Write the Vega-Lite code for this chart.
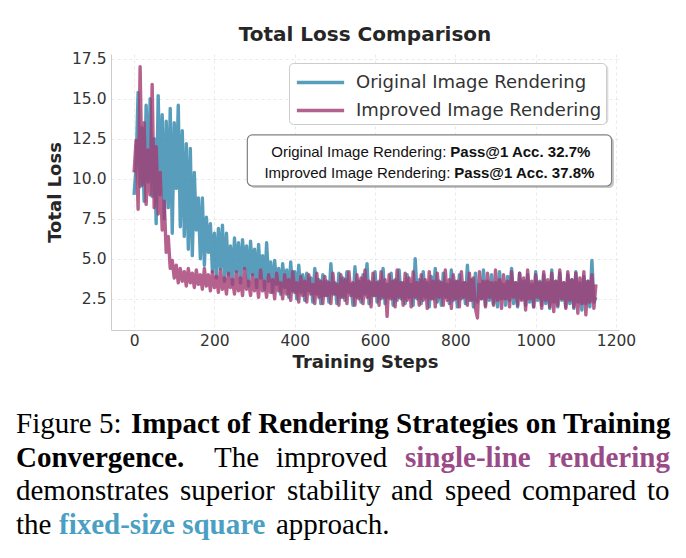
{
  "$schema": "https://vega.github.io/schema/vega-lite/v6.json",
  "width": 508,
  "height": 276,
  "autosize": {"type": "none"},
  "padding": {"left": 111, "top": 54, "right": 67, "bottom": 228},
  "background": "white",
  "config": {"view": {"stroke": null}},
  "title": {"text": "Total Loss Comparison", "font": "DejaVu Sans", "fontSize": 20, "fontWeight": "bold", "color": "#262626", "frame": "group", "offset": 7, "anchor": "middle"},
  "datasets": {
    "loss": [
      {"step":0,"o":9.0,"i":10.4},{"step":5,"o":10.8,"i":12.4},{"step":10,"o":15.4,"i":8.1},{"step":15,"o":9.5,"i":17.0},{"step":20,"o":13.2,"i":9.6},
      {"step":25,"o":8.6,"i":13.5},{"step":30,"o":14.6,"i":8.4},{"step":35,"o":9.8,"i":11.8},{"step":40,"o":15.0,"i":9.0},{"step":45,"o":8.9,"i":15.9},
      {"step":50,"o":12.5,"i":8.2},{"step":55,"o":7.2,"i":12.0},{"step":60,"o":15.2,"i":7.8},{"step":65,"o":9.0,"i":10.4},{"step":70,"o":14.0,"i":6.8},
      {"step":75,"o":7.5,"i":8.6},{"step":80,"o":13.6,"i":5.4},{"step":85,"o":8.2,"i":6.4},{"step":90,"o":14.4,"i":4.4},{"step":95,"o":6.6,"i":4.9},
      {"step":100,"o":13.5,"i":3.8},{"step":105,"o":9.4,"i":4.6},{"step":110,"o":14.6,"i":3.5},{"step":115,"o":7.0,"i":4.4},{"step":120,"o":13.0,"i":3.6},
      {"step":125,"o":6.4,"i":4.2},{"step":130,"o":12.2,"i":3.3},{"step":135,"o":5.6,"i":4.4},{"step":140,"o":11.9,"i":3.5},{"step":145,"o":5.2,"i":4.1},
      {"step":150,"o":10.4,"i":3.2},{"step":155,"o":6.8,"i":4.3},{"step":160,"o":8.8,"i":3.4},{"step":165,"o":5.0,"i":4.0},{"step":170,"o":8.8,"i":3.1},
      {"step":175,"o":4.6,"i":4.4},{"step":180,"o":7.6,"i":3.3},{"step":185,"o":5.4,"i":4.0},{"step":190,"o":7.2,"i":3.0},{"step":195,"o":4.2,"i":4.2},
      {"step":200,"o":6.6,"i":3.2},{"step":205,"o":3.8,"i":3.9},{"step":210,"o":6.9,"i":2.9},{"step":215,"o":4.4,"i":4.3},{"step":220,"o":7.1,"i":3.1},
      {"step":225,"o":3.6,"i":3.8},{"step":230,"o":6.6,"i":2.8},{"step":235,"o":4.0,"i":4.1},{"step":240,"o":5.8,"i":3.2},{"step":245,"o":3.4,"i":3.7},
      {"step":250,"o":6.3,"i":2.8},{"step":255,"o":4.2,"i":4.2},{"step":260,"o":6.0,"i":3.0},{"step":265,"o":3.5,"i":3.8},{"step":270,"o":6.2,"i":2.7},
      {"step":275,"o":4.4,"i":4.4},{"step":280,"o":5.8,"i":3.1},{"step":285,"o":3.3,"i":3.6},{"step":290,"o":6.1,"i":2.7},{"step":295,"o":4.0,"i":4.0},
      {"step":300,"o":5.6,"i":3.0},{"step":305,"o":3.2,"i":3.7},{"step":310,"o":5.9,"i":2.6},{"step":315,"o":3.8,"i":4.3},{"step":320,"o":5.2,"i":3.0},
      {"step":325,"o":3.1,"i":3.6},{"step":330,"o":6.0,"i":2.6},{"step":335,"o":3.6,"i":4.0},{"step":340,"o":4.8,"i":2.9},{"step":345,"o":2.9,"i":3.7},
      {"step":350,"o":4.9,"i":2.5},{"step":355,"o":3.4,"i":4.1},{"step":360,"o":4.4,"i":3.0},{"step":365,"o":2.8,"i":3.5},{"step":370,"o":4.7,"i":2.5},
      {"step":375,"o":3.2,"i":4.0},{"step":380,"o":4.3,"i":2.8},{"step":385,"o":2.6,"i":3.7},{"step":390,"o":4.8,"i":2.4},{"step":395,"o":3.0,"i":4.2},
      {"step":400,"o":4.2,"i":2.9},{"step":405,"o":2.5,"i":3.5},{"step":410,"o":4.6,"i":2.3},{"step":415,"o":2.9,"i":3.9},{"step":420,"o":4.0,"i":2.7},
      {"step":425,"o":2.4,"i":3.6},{"step":430,"o":4.1,"i":2.3},{"step":435,"o":3.0,"i":4.0},{"step":440,"o":3.8,"i":2.8},{"step":445,"o":2.3,"i":3.4},
      {"step":450,"o":4.4,"i":2.2},{"step":455,"o":2.8,"i":4.1},{"step":460,"o":3.7,"i":2.6},{"step":465,"o":2.2,"i":3.6},{"step":470,"o":4.0,"i":2.2},
      {"step":475,"o":2.7,"i":3.9},{"step":480,"o":3.6,"i":2.7},{"step":485,"o":2.3,"i":3.5},{"step":490,"o":4.7,"i":2.2},{"step":495,"o":2.8,"i":4.1},
      {"step":500,"o":3.5,"i":2.8},{"step":505,"o":2.2,"i":3.4},{"step":510,"o":4.1,"i":2.1},{"step":515,"o":2.6,"i":4.0},{"step":520,"o":3.8,"i":2.6},
      {"step":525,"o":2.4,"i":3.7},{"step":530,"o":4.2,"i":2.2},{"step":535,"o":2.9,"i":4.2},{"step":540,"o":3.4,"i":2.7},{"step":545,"o":2.1,"i":3.5},
      {"step":550,"o":4.5,"i":2.1},{"step":555,"o":2.6,"i":4.0},{"step":560,"o":3.6,"i":2.5},{"step":565,"o":2.3,"i":3.8},{"step":570,"o":4.0,"i":2.2},
      {"step":575,"o":2.8,"i":4.3},{"step":580,"o":4.7,"i":2.6},{"step":585,"o":2.2,"i":3.6},{"step":590,"o":3.5,"i":2.0},{"step":595,"o":2.7,"i":4.1},
      {"step":600,"o":4.2,"i":2.7},{"step":605,"o":2.3,"i":3.5},{"step":610,"o":3.6,"i":2.1},{"step":615,"o":2.5,"i":4.2},{"step":620,"o":4.4,"i":2.6},
      {"step":625,"o":2.2,"i":3.7},{"step":630,"o":3.4,"i":1.4},{"step":635,"o":2.6,"i":4.0},{"step":640,"o":4.1,"i":2.5},{"step":645,"o":2.1,"i":3.6},
      {"step":650,"o":3.7,"i":2.0},{"step":655,"o":2.4,"i":4.3},{"step":660,"o":4.3,"i":2.6},{"step":665,"o":2.5,"i":3.5},{"step":670,"o":3.5,"i":2.1},
      {"step":675,"o":2.2,"i":4.1},{"step":680,"o":4.0,"i":2.4},{"step":685,"o":2.6,"i":3.8},{"step":690,"o":3.4,"i":2.0},{"step":695,"o":2.1,"i":4.2},
      {"step":700,"o":5.0,"i":2.6},{"step":705,"o":2.5,"i":3.5},{"step":710,"o":3.7,"i":2.1},{"step":715,"o":2.2,"i":4.0},{"step":720,"o":4.2,"i":2.4},
      {"step":725,"o":2.6,"i":3.7},{"step":730,"o":3.5,"i":1.9},{"step":735,"o":2.0,"i":4.2},{"step":740,"o":3.9,"i":2.5},{"step":745,"o":2.5,"i":3.6},
      {"step":750,"o":4.4,"i":2.0},{"step":755,"o":2.3,"i":4.1},{"step":760,"o":3.6,"i":2.6},{"step":765,"o":2.1,"i":3.5},{"step":770,"o":4.1,"i":2.1},
      {"step":775,"o":2.6,"i":4.3},{"step":780,"o":3.4,"i":2.4},{"step":785,"o":2.2,"i":3.7},{"step":790,"o":4.3,"i":1.9},{"step":795,"o":2.4,"i":4.0},
      {"step":800,"o":3.6,"i":2.5},{"step":805,"o":2.0,"i":3.6},{"step":810,"o":4.0,"i":2.0},{"step":815,"o":2.5,"i":4.2},{"step":820,"o":3.5,"i":2.6},
      {"step":825,"o":2.2,"i":3.5},{"step":830,"o":4.6,"i":2.1},{"step":835,"o":2.4,"i":4.1},{"step":840,"o":3.7,"i":2.4},{"step":845,"o":2.0,"i":3.8},
      {"step":850,"o":4.1,"i":1.9},{"step":855,"o":2.3,"i":1.3},{"step":860,"o":3.4,"i":4.2},{"step":865,"o":2.5,"i":2.5},{"step":870,"o":4.3,"i":3.6},
      {"step":875,"o":2.1,"i":2.0},{"step":880,"o":3.6,"i":4.1},{"step":885,"o":2.4,"i":2.6},{"step":890,"o":4.0,"i":3.5},{"step":895,"o":2.2,"i":2.1},
      {"step":900,"o":3.5,"i":4.3},{"step":905,"o":2.0,"i":2.4},{"step":910,"o":4.2,"i":3.7},{"step":915,"o":2.5,"i":1.9},{"step":920,"o":3.4,"i":4.0},
      {"step":925,"o":2.1,"i":2.5},{"step":930,"o":3.9,"i":3.6},{"step":935,"o":2.4,"i":2.0},{"step":940,"o":4.4,"i":4.2},{"step":945,"o":2.2,"i":2.6},
      {"step":950,"o":3.5,"i":3.5},{"step":955,"o":2.0,"i":2.1},{"step":960,"o":4.1,"i":4.1},{"step":965,"o":2.5,"i":2.4},{"step":970,"o":3.6,"i":3.8},
      {"step":975,"o":2.1,"i":1.8},{"step":980,"o":4.0,"i":4.3},{"step":985,"o":2.3,"i":2.5},{"step":990,"o":3.4,"i":3.6},{"step":995,"o":2.0,"i":2.0},
      {"step":1000,"o":4.2,"i":4.0},{"step":1005,"o":2.4,"i":2.6},{"step":1010,"o":3.6,"i":3.5},{"step":1015,"o":2.1,"i":1.9},{"step":1020,"o":4.0,"i":4.2},
      {"step":1025,"o":2.2,"i":2.4},{"step":1030,"o":3.5,"i":3.7},{"step":1035,"o":1.9,"i":2.0},{"step":1040,"o":4.3,"i":4.1},{"step":1045,"o":2.3,"i":1.7},
      {"step":1050,"o":3.6,"i":3.6},{"step":1055,"o":2.0,"i":2.1},{"step":1060,"o":4.1,"i":4.3},{"step":1065,"o":2.4,"i":2.5},{"step":1070,"o":3.5,"i":3.5},
      {"step":1075,"o":2.0,"i":1.9},{"step":1080,"o":4.0,"i":4.2},{"step":1085,"o":2.2,"i":2.4},{"step":1090,"o":3.7,"i":3.7},{"step":1095,"o":1.9,"i":2.0},
      {"step":1100,"o":4.2,"i":4.1},{"step":1105,"o":2.3,"i":1.6},{"step":1110,"o":3.5,"i":3.8},{"step":1115,"o":1.8,"i":2.2},{"step":1120,"o":3.9,"i":4.2},
      {"step":1125,"o":2.2,"i":1.5},{"step":1130,"o":3.6,"i":3.6},{"step":1135,"o":2.0,"i":2.3},{"step":1140,"o":4.9,"i":4.0},{"step":1145,"o":2.3,"i":1.9},
      {"step":1150,"o":2.6,"i":3.4}
    ]
  },
  "layer": [
    {
      "layer": [
        {
          "data": {"name": "loss"},
          "mark": {"type": "line", "strokeWidth": 3.4, "opacity": 0.8, "strokeJoin": "round"},
          "encoding": {
            "x": {"field": "step", "type": "quantitative", "title": "Training Steps",
              "scale": {"domain": [-57.5, 1207.5], "nice": false, "zero": false},
              "axis": {"values": [0, 200, 400, 600, 800, 1000, 1200], "format": "d", "labelFont": "DejaVu Sans", "labelFontSize": 15.5, "labelColor": "#333333", "labelPadding": 3, "ticks": false, "labelFlush": false, "labelOverlap": false, "domainColor": "#cccccc", "gridColor": "#d0d0d0", "gridDash": [3, 3], "gridOpacity": 0.45, "titleFont": "DejaVu Sans", "titleFontSize": 18, "titleFontWeight": "bold", "titleColor": "#262626", "titlePadding": 4.5}},
            "y": {"field": "o", "type": "quantitative", "title": "Total Loss",
              "scale": {"domain": [0.55, 17.8], "nice": false, "zero": false},
              "axis": {"values": [2.5, 5, 7.5, 10, 12.5, 15, 17.5], "format": ".1f", "labelFont": "DejaVu Sans", "labelFontSize": 15.5, "labelColor": "#333333", "labelPadding": 5, "ticks": false, "labelOverlap": false, "domainColor": "#cccccc", "gridColor": "#d0d0d0", "gridDash": [3, 3], "gridOpacity": 0.45, "titleFont": "DejaVu Sans", "titleFontSize": 18, "titleFontWeight": "bold", "titleColor": "#262626", "titlePadding": 7}},
            "color": {"datum": "Original Image Rendering", "type": "nominal",
              "scale": {"domain": ["Original Image Rendering", "Improved Image Rendering"], "range": ["#2E86AB", "#A23B72"]},
              "legend": {"orient": "none", "legendX": 178, "legendY": 9, "title": null, "padding": 4, "rowPadding": 3, "symbolType": "M-1.75,0H1.75", "symbolSize": 729, "symbolOffset": 12, "labelOffset": 20, "symbolStrokeWidth": 3.5, "symbolOpacity": 0.85, "labelFont": "DejaVu Sans", "labelFontSize": 18, "labelColor": "#333333", "labelLimit": 400, "strokeColor": "#cccccc", "fillColor": "white", "cornerRadius": 4}}
          }
        },
        {
          "data": {"name": "loss"},
          "mark": {"type": "line", "strokeWidth": 3.4, "opacity": 0.8, "strokeJoin": "round"},
          "encoding": {
            "x": {"field": "step", "type": "quantitative", "title": "Training Steps"},
            "y": {"field": "i", "type": "quantitative", "title": "Total Loss"},
            "color": {"datum": "Improved Image Rendering", "type": "nominal"}
          }
        },
        {
          "data": {"values": [{"x1": 392, "x2": 1181, "y1": 13.425, "y2": 17.11}]},
          "mark": {"type": "rect", "fill": "#9a9a9a", "opacity": 0.35, "cornerRadius": 4},
          "encoding": {
            "x": {"field": "x1", "type": "quantitative", "title": "Training Steps"},
            "x2": {"field": "x2"},
            "y": {"field": "y1", "type": "quantitative", "title": "Total Loss"},
            "y2": {"field": "y2"}
          }
        },
        {
          "data": {"values": [{"x1": 288, "x2": 1195, "y1": 9.42, "y2": 12.61}]},
          "mark": {"type": "rect", "fill": "#9a9a9a", "opacity": 0.55, "cornerRadius": 5},
          "encoding": {
            "x": {"field": "x1", "type": "quantitative", "title": "Training Steps"},
            "x2": {"field": "x2"},
            "y": {"field": "y1", "type": "quantitative", "title": "Total Loss"},
            "y2": {"field": "y2"}
          }
        },
        {
          "data": {"values": [{"x1": 282, "x2": 1189, "y1": 9.55, "y2": 12.74}]},
          "mark": {"type": "rect", "fill": "white", "stroke": "#808080", "strokeWidth": 1.2, "cornerRadius": 5},
          "encoding": {
            "x": {"field": "x1", "type": "quantitative", "title": "Training Steps"},
            "x2": {"field": "x2"},
            "y": {"field": "y1", "type": "quantitative", "title": "Total Loss"},
            "y2": {"field": "y2"}
          }
        },
        {
          "data": {"values": [
            {"x": 780, "y": 11.675, "reg": "Original Image Rendering:", "bold": "Pass@1 Acc. 32.7%"},
            {"x": 790, "y": 10.36, "reg": "Improved Image Rendering:", "bold": "Pass@1 Acc. 37.8%"}
          ]},
          "layer": [
            {
              "mark": {"type": "text", "align": "right", "baseline": "middle", "dx": -1, "font": "Liberation Sans", "fontSize": 15, "color": "#111111"},
              "encoding": {
                "x": {"field": "x", "type": "quantitative", "title": "Training Steps"},
                "y": {"field": "y", "type": "quantitative", "title": "Total Loss"},
                "text": {"field": "reg"}
              }
            },
            {
              "mark": {"type": "text", "align": "left", "baseline": "middle", "dx": 3, "font": "Liberation Sans", "fontSize": 15, "fontWeight": "bold", "color": "#111111"},
              "encoding": {
                "x": {"field": "x", "type": "quantitative", "title": "Training Steps"},
                "y": {"field": "y", "type": "quantitative", "title": "Total Loss"},
                "text": {"field": "bold"}
              }
            }
          ]
        }
      ]
    },
    {
      "data": {"values": [
        {"line": 1, "pos": 0, "kind": "r", "text": "Figure 5:"},
        {"line": 1, "pos": 115, "kind": "b", "text": "Impact of Rendering Strategies on Training"},
        {"line": 2, "pos": 0, "kind": "b", "text": "Convergence."},
        {"line": 2, "pos": 198, "kind": "r", "text": "The"},
        {"line": 2, "pos": 260, "kind": "r", "text": "improved"},
        {"line": 2, "pos": 389, "kind": "p", "text": "single-line"},
        {"line": 2, "pos": 532, "kind": "p", "text": "rendering"},
        {"line": 3, "pos": 0, "kind": "r", "text": "demonstrates"},
        {"line": 3, "pos": 164, "kind": "r", "text": "superior"},
        {"line": 3, "pos": 271, "kind": "r", "text": "stability"},
        {"line": 3, "pos": 375, "kind": "r", "text": "and"},
        {"line": 3, "pos": 429, "kind": "r", "text": "speed"},
        {"line": 3, "pos": 506, "kind": "r", "text": "compared"},
        {"line": 3, "pos": 631, "kind": "r", "text": "to"},
        {"line": 4, "pos": 0, "kind": "r", "text": "the"},
        {"line": 4, "pos": 43, "kind": "c", "text": "fixed-size square"},
        {"line": 4, "pos": 260, "kind": "r", "text": "approach."}
      ]},
      "encoding": {
        "x": {"field": "pos", "type": "quantitative", "scale": {"domain": [95, 603], "nice": false, "zero": false}, "axis": null},
        "y": {"field": "line", "type": "quantitative", "scale": {"domain": [-10.0448, -1.806], "reverse": true, "nice": false, "zero": false}, "axis": null},
        "text": {"field": "text"}
      },
      "layer": [
        {"transform": [{"filter": "datum.kind == 'r'"}], "mark": {"type": "text", "align": "left", "baseline": "middle", "font": "Liberation Serif", "fontSize": 29, "color": "#000000"}},
        {"transform": [{"filter": "datum.kind == 'b'"}], "mark": {"type": "text", "align": "left", "baseline": "middle", "font": "Liberation Serif", "fontSize": 29, "fontWeight": "bold", "color": "#000000"}},
        {"transform": [{"filter": "datum.kind == 'p'"}], "mark": {"type": "text", "align": "left", "baseline": "middle", "font": "Liberation Serif", "fontSize": 29, "fontWeight": "bold", "color": "#9A4A87"}},
        {"transform": [{"filter": "datum.kind == 'c'"}], "mark": {"type": "text", "align": "left", "baseline": "middle", "font": "Liberation Serif", "fontSize": 29, "fontWeight": "bold", "color": "#4A9FC3"}}
      ]
    }
  ],
  "resolve": {"scale": {"x": "independent", "y": "independent"}}
}
